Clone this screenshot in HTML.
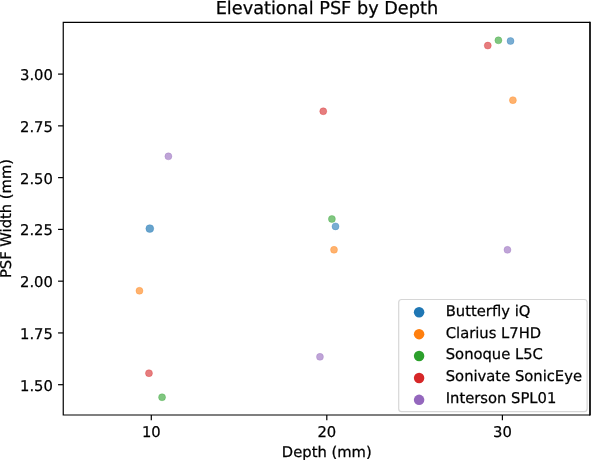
<!DOCTYPE html>
<html lang="en">
<head>
<meta charset="utf-8">
<title>Elevational PSF by Depth</title>
<style>
html,body{margin:0;padding:0;background:#fff;}
body{width:591px;height:460px;overflow:hidden;}
svg{display:block;}
text{font-family:"DejaVu Sans", "Liberation Sans", sans-serif;fill:#000;text-rendering:geometricPrecision;stroke:#000;stroke-width:0.25px;}
.t{font-size:14.76px;}
.ttl{font-size:17.7px;}
</style>
</head>
<body>
<svg xmlns="http://www.w3.org/2000/svg" width="591" height="460" viewBox="0 0 591 460">
<rect x="0" y="0" width="591" height="460" fill="#ffffff"/>

<g stroke-width="0.5" fill-opacity="0.6" stroke-opacity="0.6">
<circle cx="149.8" cy="228.6" r="3.95" fill="#1f77b4" stroke="#1f77b4" fill-opacity="0.68"/>
<circle cx="139.45" cy="290.8" r="3.5" fill="#ff7f0e" stroke="#ff7f0e"/>
<circle cx="148.96" cy="373.2" r="3.5" fill="#d62728" stroke="#d62728"/>
<circle cx="162.06" cy="397.26" r="3.5" fill="#2ca02c" stroke="#2ca02c"/>
<circle cx="168.4" cy="156.35" r="3.5" fill="#9467bd" stroke="#9467bd"/>
<circle cx="319.95" cy="356.86" r="3.5" fill="#9467bd" stroke="#9467bd"/>
<circle cx="334.0" cy="249.8" r="3.5" fill="#ff7f0e" stroke="#ff7f0e"/>
<circle cx="331.9" cy="219.0" r="3.5" fill="#2ca02c" stroke="#2ca02c"/>
<circle cx="335.5" cy="226.4" r="3.5" fill="#1f77b4" stroke="#1f77b4"/>
<circle cx="323.25" cy="111.25" r="3.5" fill="#d62728" stroke="#d62728"/>
<circle cx="487.77" cy="45.55" r="3.5" fill="#d62728" stroke="#d62728"/>
<circle cx="498.4" cy="40.3" r="3.5" fill="#2ca02c" stroke="#2ca02c"/>
<circle cx="510.5" cy="41.0" r="3.5" fill="#1f77b4" stroke="#1f77b4"/>
<circle cx="512.9" cy="100.15" r="3.5" fill="#ff7f0e" stroke="#ff7f0e"/>
<circle cx="507.46" cy="249.86" r="3.5" fill="#9467bd" stroke="#9467bd"/>
</g>
<g stroke="#000" stroke-width="1.2" fill="none">
<line x1="151.3" y1="415.0" x2="151.3" y2="420.2"/>
<line x1="326.8" y1="415.0" x2="326.8" y2="420.2"/>
<line x1="502.4" y1="415.0" x2="502.4" y2="420.2"/>
<line x1="63.25" y1="384.70" x2="58.05" y2="384.70"/>
<line x1="63.25" y1="332.93" x2="58.05" y2="332.93"/>
<line x1="63.25" y1="281.17" x2="58.05" y2="281.17"/>
<line x1="63.25" y1="229.40" x2="58.05" y2="229.40"/>
<line x1="63.25" y1="177.63" x2="58.05" y2="177.63"/>
<line x1="63.25" y1="125.86" x2="58.05" y2="125.86"/>
<line x1="63.25" y1="74.10" x2="58.05" y2="74.10"/>
<path d="M590.0 22.4H63.25V415.0H590.0" stroke-linejoin="miter"/>
<line x1="590.0" y1="21.799999999999997" x2="590.0" y2="415.6" stroke-width="1.7"/>
</g>
<text class="t" x="151.3" y="436.75" text-anchor="middle">10</text>
<text class="t" x="326.8" y="436.75" text-anchor="middle">20</text>
<text class="t" x="502.4" y="436.75" text-anchor="middle">30</text>
<text class="t" x="52.9" y="390.60" text-anchor="end">1.50</text>
<text class="t" x="52.9" y="338.83" text-anchor="end">1.75</text>
<text class="t" x="52.9" y="287.07" text-anchor="end">2.00</text>
<text class="t" x="52.9" y="235.30" text-anchor="end">2.25</text>
<text class="t" x="52.9" y="183.53" text-anchor="end">2.50</text>
<text class="t" x="52.9" y="131.76" text-anchor="end">2.75</text>
<text class="t" x="52.9" y="80.00" text-anchor="end">3.00</text>
<text class="t" x="326.8" y="456.7" text-anchor="middle">Depth (mm)</text>
<text class="t" transform="translate(11.3 218.5) rotate(-90)" text-anchor="middle">PSF Width (mm)</text>
<text class="ttl" x="326.9" y="13.8" text-anchor="middle">Elevational PSF by Depth</text>
<rect x="398.7" y="299.5" width="188.40000000000003" height="112.10000000000002" rx="2.9" ry="2.9" fill="#ffffff" fill-opacity="0.8" stroke="#cccccc" stroke-opacity="0.8" stroke-width="1.2"/>
<circle cx="419.1" cy="312.25" r="5.25" fill="#1f77b4"/>
<text class="t" x="445.75" y="315.60">Butterfly iQ</text>
<circle cx="419.1" cy="334.15" r="5.25" fill="#ff7f0e"/>
<text class="t" x="445.75" y="337.50">Clarius L7HD</text>
<circle cx="419.1" cy="356.05" r="5.25" fill="#2ca02c"/>
<text class="t" x="445.75" y="359.40">Sonoque L5C</text>
<circle cx="419.1" cy="377.95" r="5.25" fill="#d62728"/>
<text class="t" x="445.75" y="381.30">Sonivate SonicEye</text>
<circle cx="419.1" cy="399.85" r="5.25" fill="#9467bd"/>
<text class="t" x="445.75" y="403.20">Interson SPL01</text>
</svg>
</body>
</html>
